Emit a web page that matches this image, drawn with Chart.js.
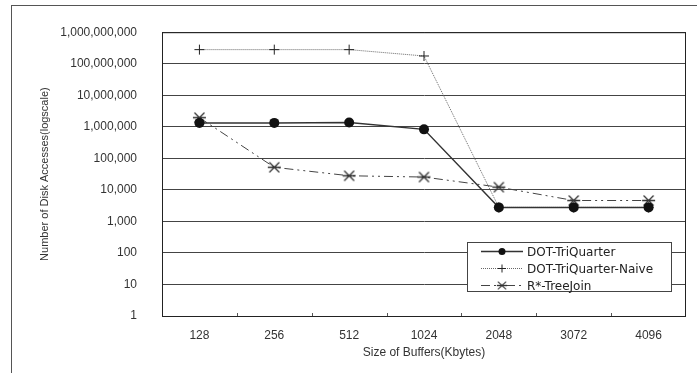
<!DOCTYPE html>
<html>
<head>
<meta charset="utf-8">
<script src="https://cdn.jsdelivr.net/npm/chart.js@4/dist/chart.umd.min.js"></script>
<style>
  html, body { margin: 0; padding: 0; background: #fff; }
  #wrap { position: relative; width: 697px; height: 373px; overflow: hidden; }
  #frame { position: absolute; left: 11px; top: 5px; width: 800px; height: 500px;
           border-top: 1px solid #555; border-left: 1px solid #555; }
  canvas { position: absolute; left: 0; top: 0; }
</style>
</head>
<body>
<div id="wrap">
  <div id="frame"></div>
  <canvas id="graficoAcessos" width="697" height="373"></canvas>
</div>
<script>
var bufferSizes = ["128", "256", "512", "1024", "2048", "3072", "4096"];
var dotTriQuarter = [1330000, 1330000, 1370000, 830000, 2780, 2780, 2780];
var dotTriQuarterNaive = [280000000, 280000000, 280000000, 176000000, 2780, 2780, 2780];
var rTreeJoin = [1950000, 52000, 28000, 25500, 12200, 4600, 4600];
var yTicks = [1, 10, 100, 1000, 10000, 100000, 1000000, 10000000, 100000000, 1000000000];
var seriesNames = ["DOT-TriQuarter", "DOT-TriQuarter-Naive", "R*-TreeJoin"];

// asterisk marker: an X with a horizontal bar through it
function makeAsterisk() {
    var c = document.createElement("canvas");
    c.width = 15; c.height = 13;
    var g = c.getContext("2d");
    g.strokeStyle = "#333";
    g.lineWidth = 1.3;
    g.beginPath();
    g.moveTo(2.5, 1.5); g.lineTo(12.5, 11.5);
    g.moveTo(12.5, 1.5); g.lineTo(2.5, 11.5);
    g.moveTo(1, 6.5); g.lineTo(14, 6.5);
    g.stroke();
    return c;
}
var asterisk = makeAsterisk();

var frameAndTicks = {
    id: "frameAndTicks",
    afterDatasetsDraw: function (chart) {
        var ctx = chart.ctx, a = chart.chartArea, x = chart.scales.x;
        ctx.save();
        ctx.strokeStyle = "#222";
        ctx.lineWidth = 1;
        ctx.strokeRect(a.left + 0.5, a.top + 0.5, a.right - a.left - 1, a.bottom - a.top);
        // small inward tick marks between categories
        ctx.strokeStyle = "#555";
        ctx.beginPath();
        for (var i = 1; i < bufferSizes.length; i++) {
            var px = Math.round((x.getPixelForValue(i - 1) + x.getPixelForValue(i)) / 2) + 0.5;
            ctx.moveTo(px, a.bottom);
            ctx.lineTo(px, a.bottom - 3);
        }
        ctx.stroke();
        ctx.restore();
    }
};

var boxLegend = {
    id: "boxLegend",
    afterDraw: function (chart) {
        var ctx = chart.ctx, a = chart.chartArea;
        var w = 204, h = 49;
        var bx = a.right - 15 - w, by = a.bottom - 25 - h;
        ctx.save();
        ctx.fillStyle = "#fff";
        ctx.fillRect(bx, by, w, h);
        ctx.strokeStyle = "#444";
        ctx.lineWidth = 1;
        ctx.strokeRect(bx + 0.5, by + 0.5, w, h);
        ctx.font = "12px 'DejaVu Sans'";
        ctx.textBaseline = "middle";
        chart.data.datasets.forEach(function (ds, i) {
            var y = Math.round(by + 9 + i * 17) + 0.5;
            var x0 = bx + 14, x1 = bx + 56, mx = (x0 + x1) / 2;
            ctx.strokeStyle = ds.borderColor;
            ctx.lineWidth = ds.borderWidth;
            ctx.setLineDash(ds.borderDash || []);
            ctx.beginPath();
            ctx.moveTo(x0, y); ctx.lineTo(x1, y);
            ctx.stroke();
            ctx.setLineDash([]);
            if (i === 0) {
                ctx.fillStyle = "#111";
                ctx.beginPath();
                ctx.arc(mx, y, 3.5, 0, Math.PI * 2);
                ctx.fill();
            } else if (i === 1) {
                ctx.strokeStyle = "#222";
                ctx.lineWidth = 1;
                ctx.beginPath();
                ctx.moveTo(mx - 4, y); ctx.lineTo(mx + 4, y);
                ctx.moveTo(mx, y - 4); ctx.lineTo(mx, y + 4);
                ctx.stroke();
            } else {
                ctx.drawImage(asterisk, mx - 6, y - 5, 12, 10);
            }
            ctx.fillStyle = "#222";
            ctx.fillText(seriesNames[i], bx + 60, y + 1);
        });
        ctx.restore();
    }
};

var ctx = document.getElementById("graficoAcessos").getContext("2d");

new Chart(ctx, {
    type: "line",
    data: {
        labels: bufferSizes,
        datasets: [{
            label: seriesNames[0],
            data: dotTriQuarter,
            borderColor: "#333",
            borderWidth: 1.5,
            pointStyle: "circle",
            pointRadius: 5,
            pointBackgroundColor: "#111",
            pointBorderColor: "#111",
            pointBorderWidth: 0
        }, {
            label: seriesNames[1],
            data: dotTriQuarterNaive,
            borderColor: "#666",
            borderWidth: 1,
            borderDash: [1, 1],
            pointStyle: "cross",
            pointRadius: 5,
            pointBorderColor: "#222",
            pointBorderWidth: 1
        }, {
            label: seriesNames[2],
            data: rTreeJoin,
            borderColor: "#444",
            borderWidth: 1,
            borderDash: [9, 4, 2, 4, 2, 4],
            pointStyle: asterisk,
            pointRadius: 6
        }]
    },
    options: {
        responsive: false,
        animation: false,
        layout: { padding: { left: 0, top: 26, right: 11, bottom: 0 } },
        plugins: { legend: { display: false }, tooltip: { enabled: false } },
        elements: { line: { tension: 0, fill: false } },
        scales: {
            x: {
                type: "category",
                offset: true,
                grid: { display: false },
                border: { display: false },
                ticks: { color: "#333", padding: 4, font: { family: "'Liberation Sans'", size: 12 } },
                title: {
                    display: true,
                    text: "Size of Buffers(Kbytes)",
                    color: "#333",
                    font: { family: "'Liberation Sans'", size: 12 },
                    padding: { top: 0, bottom: 13 }
                },
                afterFit: function (scale) { scale.height = 57; }
            },
            y: {
                type: "logarithmic",
                min: 1,
                max: 1000000000,
                grid: { color: "#444", lineWidth: 1, drawTicks: false },
                border: { display: true, color: "#222" },
                afterBuildTicks: function (scale) {
                    scale.ticks = yTicks.map(function (v) { return { value: v }; });
                },
                ticks: {
                    color: "#333",
                    padding: 25,
                    font: { family: "'Liberation Sans'", size: 12 },
                    callback: function (v) { return Number(v).toLocaleString("en-US"); }
                },
                title: {
                    display: true,
                    text: "Number of Disk Accesses(logscale)",
                    color: "#333",
                    font: { family: "'Liberation Sans'", size: 11 },
                    padding: { top: 38, bottom: 0 }
                },
                afterFit: function (scale) { scale.width = 162; }
            }
        }
    },
    plugins: [frameAndTicks, boxLegend]
});
</script>
</body>
</html>
